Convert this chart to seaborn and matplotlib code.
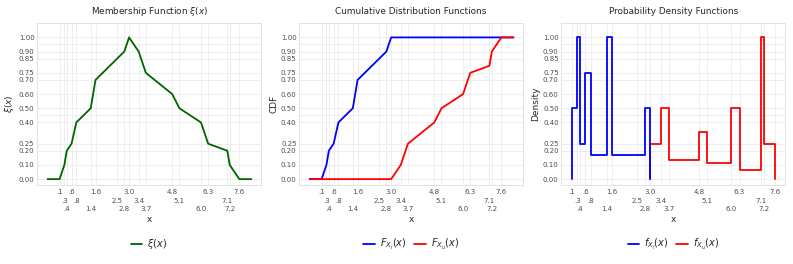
import numpy as np
import seaborn as sns
import matplotlib.pyplot as plt
from matplotlib.lines import Line2D

# данные
x_low = [-0.4, 0.1, 0.3, 0.4, 0.6, 0.8, 1.4, 1.6, 2.8, 3.0, 8.1]
cdf_low = [0, 0, 0.1, 0.2, 0.25, 0.4, 0.5, 0.7, 0.9, 1.0, 1.0]

x_up = [-0.4, 3.0, 3.4, 3.7, 4.8, 5.1, 6.0, 6.3, 7.1, 7.2, 7.6, 8.1]
cdf_up = [0, 0, 0.1, 0.25, 0.4, 0.5, 0.6, 0.75, 0.8, 0.9, 1.0, 1.0]

x_xi = [-0.4, 0.1, 0.3, 0.4, 0.6, 0.8, 1.4, 1.6, 2.8, 3.0, 3.4, 3.7, 4.8, 5.1,
        6.0, 6.3, 7.1, 7.2, 7.6, 8.1]
xi = [0, 0, 0.1, 0.2, 0.25, 0.4, 0.5, 0.7, 0.9, 1.0, 0.9, 0.75, 0.6, 0.5,
      0.4, 0.25, 0.2, 0.1, 0, 0]

brk_low = [0.1, 0.3, 0.4, 0.6, 0.8, 1.4, 1.6, 2.8, 3.0]
dens_low = [0.5, 1.0, 0.25, 0.75, 0.167, 1.0, 0.167, 0.5]
brk_up = [3.0, 3.4, 3.7, 4.8, 5.1, 6.0, 6.3, 7.1, 7.2, 7.6]
dens_up = [0.25, 0.5, 0.136, 0.333, 0.111, 0.5, 0.0625, 1.0, 0.25]

x_ticks = [0.1, 0.3, 0.4, 0.6, 0.8, 1.4, 1.6, 2.5, 2.8, 3.0, 3.4, 3.7, 4.8,
           5.1, 6.0, 6.3, 7.1, 7.2, 7.6]
x_tick_text = ['.1', '.3', '.4', '.6', '.8', '1.4', '1.6', '2.5', '2.8', '3.0',
               '3.4', '3.7', '4.8', '5.1', '6.0', '6.3', '7.1', '7.2', '7.6']
y_ticks = [0, 0.1, 0.2, 0.25, 0.4, 0.5, 0.6, 0.7, 0.75, 0.85, 0.9, 1.0]


def steps(brk, dens):
    # ступенчатая плотность: вертикальные отрезки на концах
    xs = np.repeat(brk, 2)
    ys = np.concatenate([[0], np.repeat(dens, 2), [0]])
    return xs, ys


sns.set_theme(style='whitegrid')
plt.rcParams['font.family'] = ['DejaVu Sans']
plt.rcParams['mathtext.fontset'] = 'dejavusans'

fig, axes = plt.subplots(1, 3, figsize=(7.93, 2.64), dpi=100)
fig.subplots_adjust(left=0.047, right=0.99, top=0.912, bottom=0.30, wspace=0.172)

sns.lineplot(x=x_xi, y=xi, ax=axes[0], color='#006400', lw=1.3,
             sort=False, estimator=None)
sns.lineplot(x=x_low, y=cdf_low, ax=axes[1], color='blue', lw=1.3,
             sort=False, estimator=None)
sns.lineplot(x=x_up, y=cdf_up, ax=axes[1], color='red', lw=1.3,
             sort=False, estimator=None)
xs, ys = steps(brk_up, dens_up)
sns.lineplot(x=xs, y=ys, ax=axes[2], color='red', lw=1.3, sort=False, estimator=None)
xs, ys = steps(brk_low, dens_low)
sns.lineplot(x=xs, y=ys, ax=axes[2], color='blue', lw=1.3, sort=False, estimator=None)

titles = [r'Membership Function $\xi(x)$', 'Cumulative Distribution Functions',
          'Probability Density Functions']
ylabels = [r'$\xi(x)$', 'CDF', 'Density']
legends = [
    [('#006400', r'$\xi(x)$')],
    [('blue', r'$F_{X_l}(x)$'), ('red', r'$F_{X_u}(x)$')],
    [('blue', r'$f_{X_l}(x)$'), ('red', r'$f_{X_u}(x)$')],
]

for ax, t, yl, leg in zip(axes, titles, ylabels, legends):
    ax.set_title(t, fontsize=6.4, pad=7)
    ax.set_xlabel('x', fontsize=6.5, labelpad=1.5)
    ax.set_ylabel(yl, fontsize=6.5, labelpad=2)
    ax.set_xticks(x_ticks)
    ax.set_xticklabels(x_tick_text, fontsize=5, color='#4d4d4d')
    ax.set_yticks(y_ticks)
    ax.set_yticklabels([f'{v:.2f}' for v in y_ticks], fontsize=5, color='#4d4d4d')
    ax.set_yticks([0.45, 0.95], minor=True)
    ax.tick_params(axis='both', which='both', length=0, pad=2)
    # метки оси x в три ряда
    for i, tick in enumerate(ax.xaxis.get_major_ticks()):
        tick.set_pad(3 + 6.3 * (i % 3))
    ax.grid(True, which='both', color='#ebebeb', lw=0.6)
    ax.set_ylim(-0.04, 1.1)
    for s in ax.spines.values():
        s.set_color('#dedede')
        s.set_linewidth(0.6)
    handles = [Line2D([], [], color=c, lw=1.3) for c, _ in leg]
    ax.legend(handles, [l for _, l in leg], loc='upper center',
              bbox_to_anchor=(0.5, -0.27), ncol=len(leg), frameon=False,
              fontsize=7, handlelength=1.2, handletextpad=0.5, columnspacing=0.8)

axes[0].set_xlim(-0.83, 8.5)
axes[1].set_xlim(-0.83, 8.5)
axes[2].set_xlim(-0.28, 7.98)

plt.savefig('out.png', dpi=100)
